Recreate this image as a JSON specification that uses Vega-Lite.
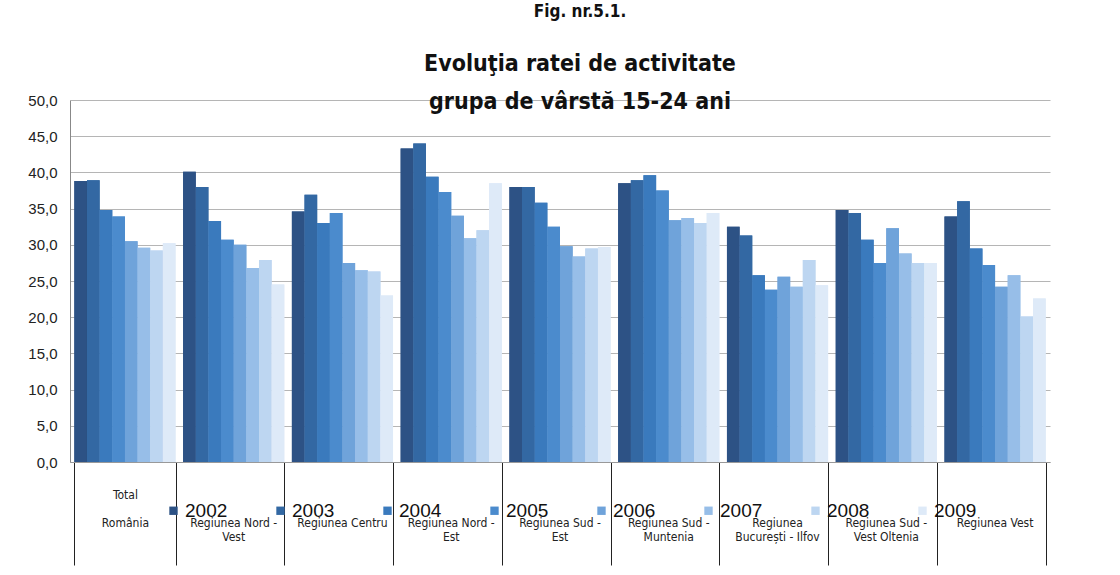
{
  "$schema": "https://vega.github.io/schema/vega-lite/v6.json",
  "autosize": {"type": "none"},
  "width": 980,
  "height": 362,
  "padding": {"left": 70, "top": 100, "right": 70, "bottom": 113},
  "background": "white",
  "title": {
    "text": "Fig. nr.5.1.",
    "subtitle": ["Evoluţia ratei de activitate", "grupa de vârstă 15-24 ani"],
    "anchor": "middle",
    "dx": 20,
    "offset": -22,
    "font": "DejaVu Sans Condensed, Liberation Sans",
    "fontSize": 17,
    "fontWeight": "bold",
    "color": "#111",
    "subtitleFont": "DejaVu Sans Condensed, Liberation Sans",
    "subtitleFontSize": 23,
    "subtitleFontWeight": "bold",
    "subtitleColor": "#111",
    "subtitleLineHeight": 38,
    "subtitlePadding": 32
  },
  "datasets": {
    "rates": [
      {"regiune": "Total România", "an": "2002", "rata": 38.8},
      {"regiune": "Total România", "an": "2003", "rata": 38.9},
      {"regiune": "Total România", "an": "2004", "rata": 34.8},
      {"regiune": "Total România", "an": "2005", "rata": 33.9},
      {"regiune": "Total România", "an": "2006", "rata": 30.5},
      {"regiune": "Total România", "an": "2007", "rata": 29.6},
      {"regiune": "Total România", "an": "2008", "rata": 29.2},
      {"regiune": "Total România", "an": "2009", "rata": 30.2},
      {"regiune": "Regiunea Nord - Vest", "an": "2002", "rata": 40.1},
      {"regiune": "Regiunea Nord - Vest", "an": "2003", "rata": 38.0},
      {"regiune": "Regiunea Nord - Vest", "an": "2004", "rata": 33.3},
      {"regiune": "Regiunea Nord - Vest", "an": "2005", "rata": 30.7},
      {"regiune": "Regiunea Nord - Vest", "an": "2006", "rata": 30.0},
      {"regiune": "Regiunea Nord - Vest", "an": "2007", "rata": 26.8},
      {"regiune": "Regiunea Nord - Vest", "an": "2008", "rata": 27.9},
      {"regiune": "Regiunea Nord - Vest", "an": "2009", "rata": 24.5},
      {"regiune": "Regiunea Centru", "an": "2002", "rata": 34.6},
      {"regiune": "Regiunea Centru", "an": "2003", "rata": 36.9},
      {"regiune": "Regiunea Centru", "an": "2004", "rata": 33.0},
      {"regiune": "Regiunea Centru", "an": "2005", "rata": 34.4},
      {"regiune": "Regiunea Centru", "an": "2006", "rata": 27.5},
      {"regiune": "Regiunea Centru", "an": "2007", "rata": 26.5},
      {"regiune": "Regiunea Centru", "an": "2008", "rata": 26.3},
      {"regiune": "Regiunea Centru", "an": "2009", "rata": 23.0},
      {"regiune": "Regiunea Nord - Est", "an": "2002", "rata": 43.3},
      {"regiune": "Regiunea Nord - Est", "an": "2003", "rata": 44.0},
      {"regiune": "Regiunea Nord - Est", "an": "2004", "rata": 39.4},
      {"regiune": "Regiunea Nord - Est", "an": "2005", "rata": 37.3},
      {"regiune": "Regiunea Nord - Est", "an": "2006", "rata": 34.0},
      {"regiune": "Regiunea Nord - Est", "an": "2007", "rata": 30.9},
      {"regiune": "Regiunea Nord - Est", "an": "2008", "rata": 32.0},
      {"regiune": "Regiunea Nord - Est", "an": "2009", "rata": 38.5},
      {"regiune": "Regiunea Sud - Est", "an": "2002", "rata": 38.0},
      {"regiune": "Regiunea Sud - Est", "an": "2003", "rata": 38.0},
      {"regiune": "Regiunea Sud - Est", "an": "2004", "rata": 35.8},
      {"regiune": "Regiunea Sud - Est", "an": "2005", "rata": 32.5},
      {"regiune": "Regiunea Sud - Est", "an": "2006", "rata": 29.8},
      {"regiune": "Regiunea Sud - Est", "an": "2007", "rata": 28.4},
      {"regiune": "Regiunea Sud - Est", "an": "2008", "rata": 29.5},
      {"regiune": "Regiunea Sud - Est", "an": "2009", "rata": 29.7},
      {"regiune": "Regiunea Sud - Muntenia", "an": "2002", "rata": 38.5},
      {"regiune": "Regiunea Sud - Muntenia", "an": "2003", "rata": 38.9},
      {"regiune": "Regiunea Sud - Muntenia", "an": "2004", "rata": 39.6},
      {"regiune": "Regiunea Sud - Muntenia", "an": "2005", "rata": 37.5},
      {"regiune": "Regiunea Sud - Muntenia", "an": "2006", "rata": 33.4},
      {"regiune": "Regiunea Sud - Muntenia", "an": "2007", "rata": 33.7},
      {"regiune": "Regiunea Sud - Muntenia", "an": "2008", "rata": 33.0},
      {"regiune": "Regiunea Sud - Muntenia", "an": "2009", "rata": 34.4},
      {"regiune": "Regiunea București - Ilfov", "an": "2002", "rata": 32.5},
      {"regiune": "Regiunea București - Ilfov", "an": "2003", "rata": 31.3},
      {"regiune": "Regiunea București - Ilfov", "an": "2004", "rata": 25.8},
      {"regiune": "Regiunea București - Ilfov", "an": "2005", "rata": 23.8},
      {"regiune": "Regiunea București - Ilfov", "an": "2006", "rata": 25.6},
      {"regiune": "Regiunea București - Ilfov", "an": "2007", "rata": 24.2},
      {"regiune": "Regiunea București - Ilfov", "an": "2008", "rata": 27.9},
      {"regiune": "Regiunea București - Ilfov", "an": "2009", "rata": 24.4},
      {"regiune": "Regiunea Sud - Vest Oltenia", "an": "2002", "rata": 34.8},
      {"regiune": "Regiunea Sud - Vest Oltenia", "an": "2003", "rata": 34.4},
      {"regiune": "Regiunea Sud - Vest Oltenia", "an": "2004", "rata": 30.7},
      {"regiune": "Regiunea Sud - Vest Oltenia", "an": "2005", "rata": 27.5},
      {"regiune": "Regiunea Sud - Vest Oltenia", "an": "2006", "rata": 32.3},
      {"regiune": "Regiunea Sud - Vest Oltenia", "an": "2007", "rata": 28.8},
      {"regiune": "Regiunea Sud - Vest Oltenia", "an": "2008", "rata": 27.5},
      {"regiune": "Regiunea Sud - Vest Oltenia", "an": "2009", "rata": 27.5},
      {"regiune": "Regiunea Vest", "an": "2002", "rata": 33.9},
      {"regiune": "Regiunea Vest", "an": "2003", "rata": 36.0},
      {"regiune": "Regiunea Vest", "an": "2004", "rata": 29.5},
      {"regiune": "Regiunea Vest", "an": "2005", "rata": 27.2},
      {"regiune": "Regiunea Vest", "an": "2006", "rata": 24.2},
      {"regiune": "Regiunea Vest", "an": "2007", "rata": 25.8},
      {"regiune": "Regiunea Vest", "an": "2008", "rata": 20.1},
      {"regiune": "Regiunea Vest", "an": "2009", "rata": 22.6}
    ]
  },
  "data": {"name": "rates"},
  "encoding": {
    "xOffset": {"field": "an", "type": "nominal", "scale": {"paddingInner": 0, "paddingOuter": 0}},
    "y": {
      "field": "rata",
      "type": "quantitative",
      "title": null,
      "scale": {"domain": [0, 50], "nice": false},
      "axis": {
        "values": [0, 5, 10, 15, 20, 25, 30, 35, 40, 45, 50],
        "labelExpr": "replace(format(datum.value, '.1f'), '.', ',')",
        "labelFont": "Liberation Sans",
        "labelFontSize": 15,
        "labelColor": "#222",
        "labelPadding": 13,
        "ticks": false,
        "domainColor": "#888",
        "grid": true,
        "gridColor": "#b5b5b5",
        "gridWidth": 1
      }
    },
    "color": {
      "field": "an",
      "type": "nominal",
      "title": null,
      "scale": {
        "domain": ["2002", "2003", "2004", "2005", "2006", "2007", "2008", "2009"],
        "range": ["#2d5285", "#3368a3", "#3a7abd", "#4b8bcd", "#6fa3da", "#97bee8", "#bdd6f1", "#deeaf8"]
      },
      "legend": {
        "orient": "none",
        "legendX": 94,
        "legendY": 401,
        "direction": "horizontal",
        "columns": 8,
        "columnPadding": 43,
        "symbolType": "square",
        "symbolSize": 70,
        "symbolStrokeWidth": 0,
        "labelFont": "Liberation Sans",
        "labelFontSize": 19,
        "labelColor": "#111",
        "labelOffset": 2,
        "encode": {"symbols": {"update": {"fill": {"value": "#3a73b2"}, "stroke": {"value": "#3a73b2"}}}}
      }
    }
  },
  "layer": [
    {
      "mark": {"type": "bar"},
      "encoding": {
        "x": {
          "field": "regiune",
          "type": "nominal",
          "sort": null,
          "title": null,
          "scale": {"paddingInner": 0.07, "paddingOuter": 0.04},
          "axis": {
            "orient": "bottom",
            "tickBand": "extent",
            "tickSize": 103,
            "tickColor": "#222",
            "tickWidth": 1,
            "domainColor": "#999",
            "labelPadding": -76,
            "labelAngle": 0,
            "labelBaseline": "top",
            "labelAlign": "center",
            "labelFont": "DejaVu Sans Condensed, Liberation Sans",
            "labelFontSize": 12,
            "labelColor": "#222",
            "labelLineHeight": 28,
            "labelLimit": 200,
            "labelExpr": "datum.label == 'Total România' ? ['Total', 'România'] : ''"
          }
        }
      }
    },
    {
      "mark": {"type": "bar"},
      "encoding": {
        "x": {
          "field": "regiune",
          "type": "nominal",
          "sort": null,
          "title": null,
          "axis": {
            "orient": "bottom",
            "ticks": false,
            "domain": false,
            "labelPadding": 55,
            "labelAngle": 0,
            "labelBaseline": "top",
            "labelAlign": "center",
            "labelFont": "DejaVu Sans Condensed, Liberation Sans",
            "labelFontSize": 12,
            "labelColor": "#222",
            "labelLineHeight": 14,
            "labelLimit": 200,
            "labelExpr": "datum.label == 'Regiunea Nord - Vest' ? ['Regiunea Nord -', 'Vest'] : datum.label == 'Regiunea Centru' ? ['Regiunea Centru'] : datum.label == 'Regiunea Nord - Est' ? ['Regiunea Nord -', 'Est'] : datum.label == 'Regiunea Sud - Est' ? ['Regiunea Sud -', 'Est'] : datum.label == 'Regiunea Sud - Muntenia' ? ['Regiunea Sud -', 'Muntenia'] : datum.label == 'Regiunea București - Ilfov' ? ['Regiunea', 'București - Ilfov'] : datum.label == 'Regiunea Sud - Vest Oltenia' ? ['Regiunea Sud -', 'Vest Oltenia'] : datum.label == 'Regiunea Vest' ? 'Regiunea  Vest' : ''"
          }
        }
      }
    }
  ],
  "resolve": {"axis": {"x": "independent"}},
  "config": {
    "view": {"stroke": null},
    "axis": {"labelOverlap": false}
  }
}
